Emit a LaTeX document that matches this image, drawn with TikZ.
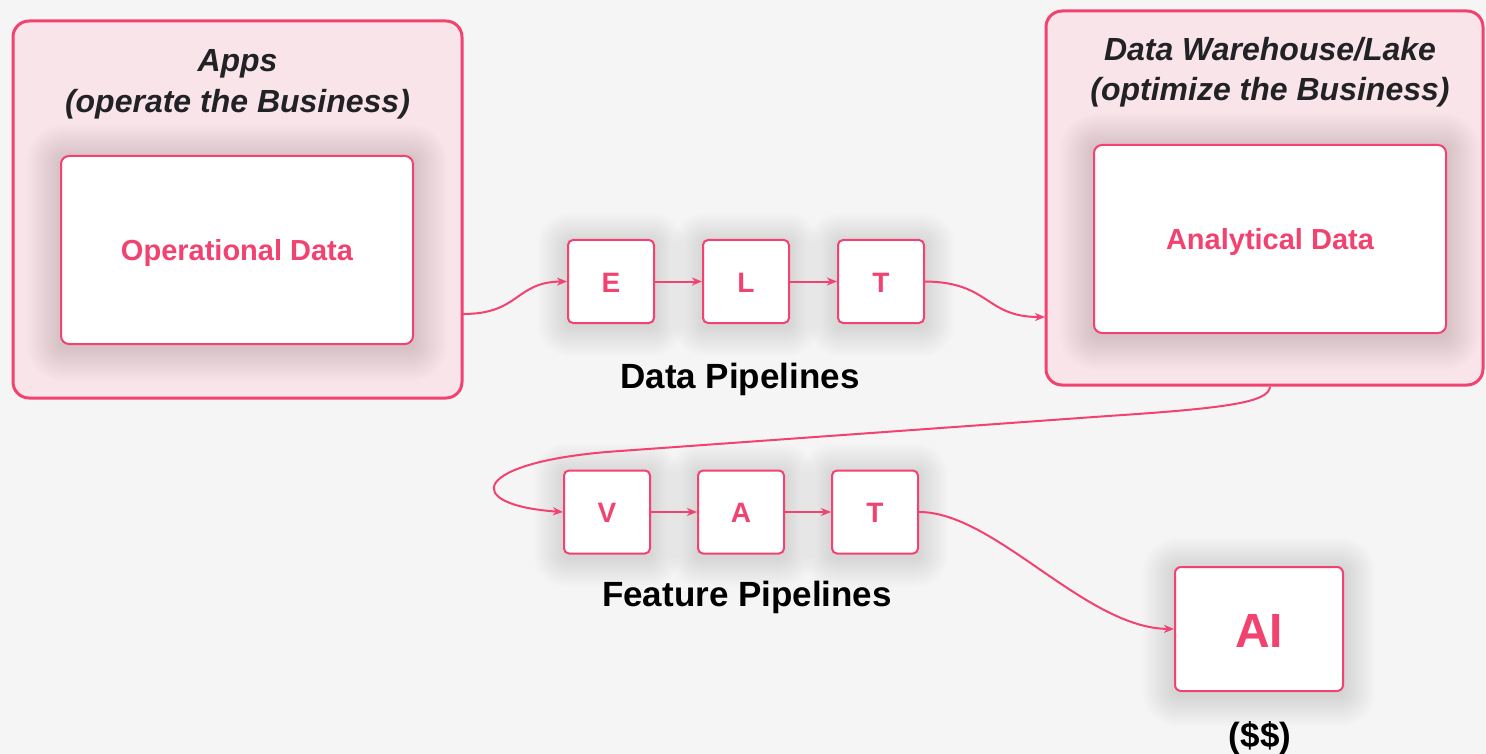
\documentclass[tikz,border=0pt]{standalone}
\usepackage{fontspec}
\setmainfont{Liberation Sans}
\usetikzlibrary{arrows.meta,calc}

\definecolor{hpink}{RGB}{242,66,112}
\definecolor{boxfill}{RGB}{249,228,233}
\definecolor{bgcol}{RGB}{245,245,246}
\definecolor{ink}{RGB}{33,34,38}
\definecolor{haze}{RGB}{90,70,95}
\definecolor{mist}{RGB}{95,110,115}

\pgfdeclarelayer{back}
\pgfdeclarelayer{halo}
\pgfsetlayers{back,halo,main}

% soft glow behind a node: stacked translucent rounded rectangles
\newcommand\glow[4]{% node, reach, per-layer opacity, colour
  \begin{pgfonlayer}{halo}
    \foreach \r in {1,...,#2}{
      \fill[#4, opacity=#3, rounded corners=\r pt+4pt]
        ($(#1.south west)+(-\r,\r+3)$) rectangle ($(#1.north east)+(\r,-\r+3)$);
    }
  \end{pgfonlayer}}

\tikzset{
  zone/.style={draw=hpink, line width=3pt, fill=boxfill, rounded corners=16pt,
      minimum width=#1},
  datastore/.style={draw=hpink, line width=2pt, fill=white, rounded corners=8pt,
      minimum width=352pt, minimum height=188pt},
  stage/.style={draw=hpink, line width=2pt, fill=white, rounded corners=5pt,
      minimum width=86pt, minimum height=83pt},
  stagetxt/.style={text=hpink, font=\fontsize{28}{30}\selectfont\bfseries, anchor=base},
  storetxt/.style={text=hpink, font=\fontsize{29}{32}\selectfont\bfseries, anchor=base},
  zonetitle/.style={text=ink, font=\fontsize{32}{40}\selectfont\bfseries\itshape, anchor=base},
  caption/.style={text=black, font=\fontsize{35}{40}\selectfont\bfseries, anchor=base},
  flow/.style={draw=hpink, line width=2pt,
      -{Stealth[length=10pt,width=8pt,inset=3pt]}},
}

\begin{document}
\begin{tikzpicture}[x=1pt,y=-1pt]
  % canvas
  \begin{pgfonlayer}{back}
    \fill[bgcol] (0,0) rectangle (1486,754);
  \end{pgfonlayer}
  \useasboundingbox (0,0) rectangle (1486,754);

  % the two zones
  \begin{pgfonlayer}{back}
    \node[zone=449pt, minimum height=377pt] (apps) at (237.5,209.5) {};
    \node[zone=437pt, minimum height=374pt] (dw) at (1264.5,198) {};
  \end{pgfonlayer}

  % operational side
  \node[zonetitle] (appsA) at (237.5,72) {Apps};
  \node[zonetitle] (appsB) at (237.5,113) {(operate the Business)};
  \node[datastore] (opd) at (237,250) {};
  \node[storetxt] (opdtxt) at (237,260) {Operational Data};

  % analytical side
  \node[zonetitle] (dwA) at (1270,61) {Data Warehouse/Lake};
  \node[zonetitle] (dwB) at (1270,101) {(optimize the Business)};
  \node[datastore] (ana) at (1270,239) {};
  \node[storetxt] (anatxt) at (1270,250) {Analytical Data};

  % data pipeline stages
  \node[stage] (e) at (611,281.5) {};
  \node[stage] (l) at (746,281.5) {};
  \node[stage] (t) at (881,281.5) {};
  \node[stagetxt] at (611,292) {E};
  \node[stagetxt] at (746,292) {L};
  \node[stagetxt] at (881,292) {T};
  \node[caption] (dpl) at (740,388) {Data Pipelines};

  % feature pipeline stages
  \node[stage] (v) at (607,512) {};
  \node[stage] (a) at (741,512) {};
  \node[stage] (t2) at (875,512) {};
  \node[stagetxt] at (607,522.5) {V};
  \node[stagetxt] at (741,522.5) {A};
  \node[stagetxt] at (875,522.5) {T};
  \node[caption] (fpl) at (747,606) {Feature Pipelines};

  % model
  \node[draw=hpink, line width=2pt, fill=white, rounded corners=6pt,
        minimum width=168pt, minimum height=124pt] (ai) at (1259,629) {};
  \node[text=hpink, font=\fontsize{48}{50}\selectfont\bfseries, anchor=base] at (1259,647) {AI};
  \node[caption] (money) at (1260,747) {(\$\$)};

  % glows
  \glow{opd}{34}{0.005}{haze}
  \glow{ana}{34}{0.005}{haze}
  \foreach \n in {e,l,t,v,a,t2}{\glow{\n}{30}{0.0035}{mist}}
  \glow{ai}{32}{0.0035}{mist}

  % connector end points on the zone borders
  \coordinate (appsout) at (463,314);
  \coordinate (dwin) at (1045,317);
  \coordinate (dwout) at (1270,387);

  % flows
  \draw[flow] (appsout) .. controls (520,314) and (515,282) .. (e.west);
  \draw[flow] (e.east) -- (l.west);
  \draw[flow] (l.east) -- (t.west);
  \draw[flow] (t.east) .. controls (990,282) and (985,317) .. (dwin);

  \draw[flow] (dwout) .. controls (1268,402) and (1230,408) .. (1108,416)
     -- (620,451) .. controls (470,461) and (460,505) .. (v.west);
  \draw[flow] (v.east) -- (a.west);
  \draw[flow] (a.east) -- (t2.west);
  \draw[flow] (t2.east) .. controls (995,512) and (1085,628) .. (ai.west);
\end{tikzpicture}
\end{document}
